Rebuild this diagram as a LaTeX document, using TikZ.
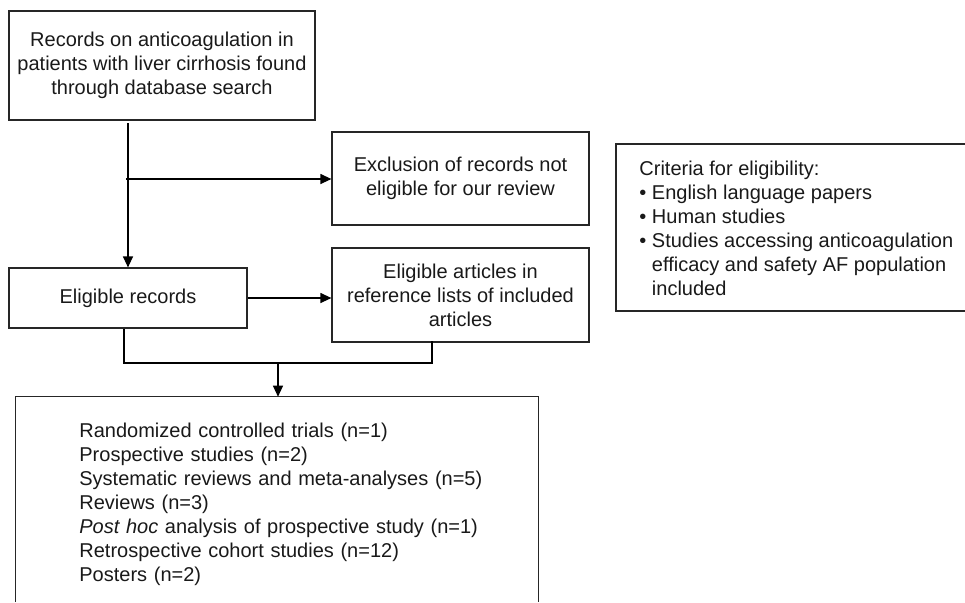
\documentclass[tikz,border=0pt]{standalone}
\usepackage{fontspec}
\setmainfont{Liberation Sans}
\usetikzlibrary{arrows.meta}
\begin{document}
\begin{tikzpicture}[x=0.5pt,y=-0.5pt,
  every node/.style={font=\fontsize{10}{12}\selectfont, text=black!90},
  box/.style={draw=black!85, line width=0.6pt, rectangle, inner sep=0pt, align=center},
  frame/.style={draw=black!85, line width=0.6pt},
  conn/.style={line width=0.6pt, draw=black},
  arr/.style={conn, -{Triangle[length=5.5pt,width=5pt]}},
]
\useasboundingbox (0,0) rectangle (965,602);

\node[box, minimum width=153pt, minimum height=54.5pt] (rec) at (162,65.5)
  {Records on anticoagulation in\\patients with liver cirrhosis found\\through database search};
\node[box, minimum width=128.5pt, minimum height=46.5pt] (excl) at (460.5,178.5)
  {Exclusion of records not\\eligible for our review};
\node[box, minimum width=119pt, minimum height=30pt] (elig) at (128,298)
  {Eligible records};
\node[box, minimum width=128.5pt, minimum height=47pt] (art) at (460.5,295)
  {Eligible articles in\\reference lists of included\\articles};

% criteria box (right side cut by picture edge)
\coordinate (cbTL) at (616,144);
\coordinate (cbBL) at (616,311);
\coordinate (cbTR) at (965,144);
\coordinate (cbBR) at (965,311);
\draw[frame] (cbTR) -- (cbTL) -- (cbBL) -- (cbBR);
\node[anchor=west, align=left, inner sep=0pt] (crit) at (639,228)
  {Criteria for eligibility:\\
   • English language papers\\
   • Human studies\\
   • Studies accessing anticoagulation\\
   \hphantom{• }efficacy and safety AF population\\
   \hphantom{• }included};

% bottom box (bottom edge cut by picture edge)
\coordinate (lbTL) at (15.7,396.7);
\coordinate (lbTR) at (538.7,396.7);
\coordinate (lbBL) at (15.7,602);
\coordinate (lbBR) at (538.7,602);
\draw[frame] (lbBL) -- (lbTL) -- (lbTR) -- (lbBR);
\node[anchor=base west, text width=250pt, align=left, inner sep=0pt] (list) at (79,437)
  {Randomized controlled trials (n=1)\\
   Prospective studies (n=2)\\
   Systematic reviews and meta-analyses (n=5)\\
   Reviews (n=3)\\
   \textit{Post hoc} analysis of prospective study (n=1)\\
   Retrospective cohort studies (n=12)\\
   Posters (n=2)};

% connectors
\coordinate (s1) at (128,123);
\draw[arr] (s1) -- (elig.north);
\coordinate (br) at (126,179);
\draw[arr] (br) -- (br -| excl.west);
\draw[arr] (elig.east) -- (elig.east -| art.west);
\coordinate (m1) at (124,363);
\coordinate (m2) at (432,363);
\coordinate (m3) at (278,363);
\draw[conn] (m1 |- elig.south) -- (m1) -- (m2) -- ([yshift=1pt]m2 |- art.south);
\draw[arr] (m3) -- (m3 |- lbTL);
\end{tikzpicture}
\end{document}
